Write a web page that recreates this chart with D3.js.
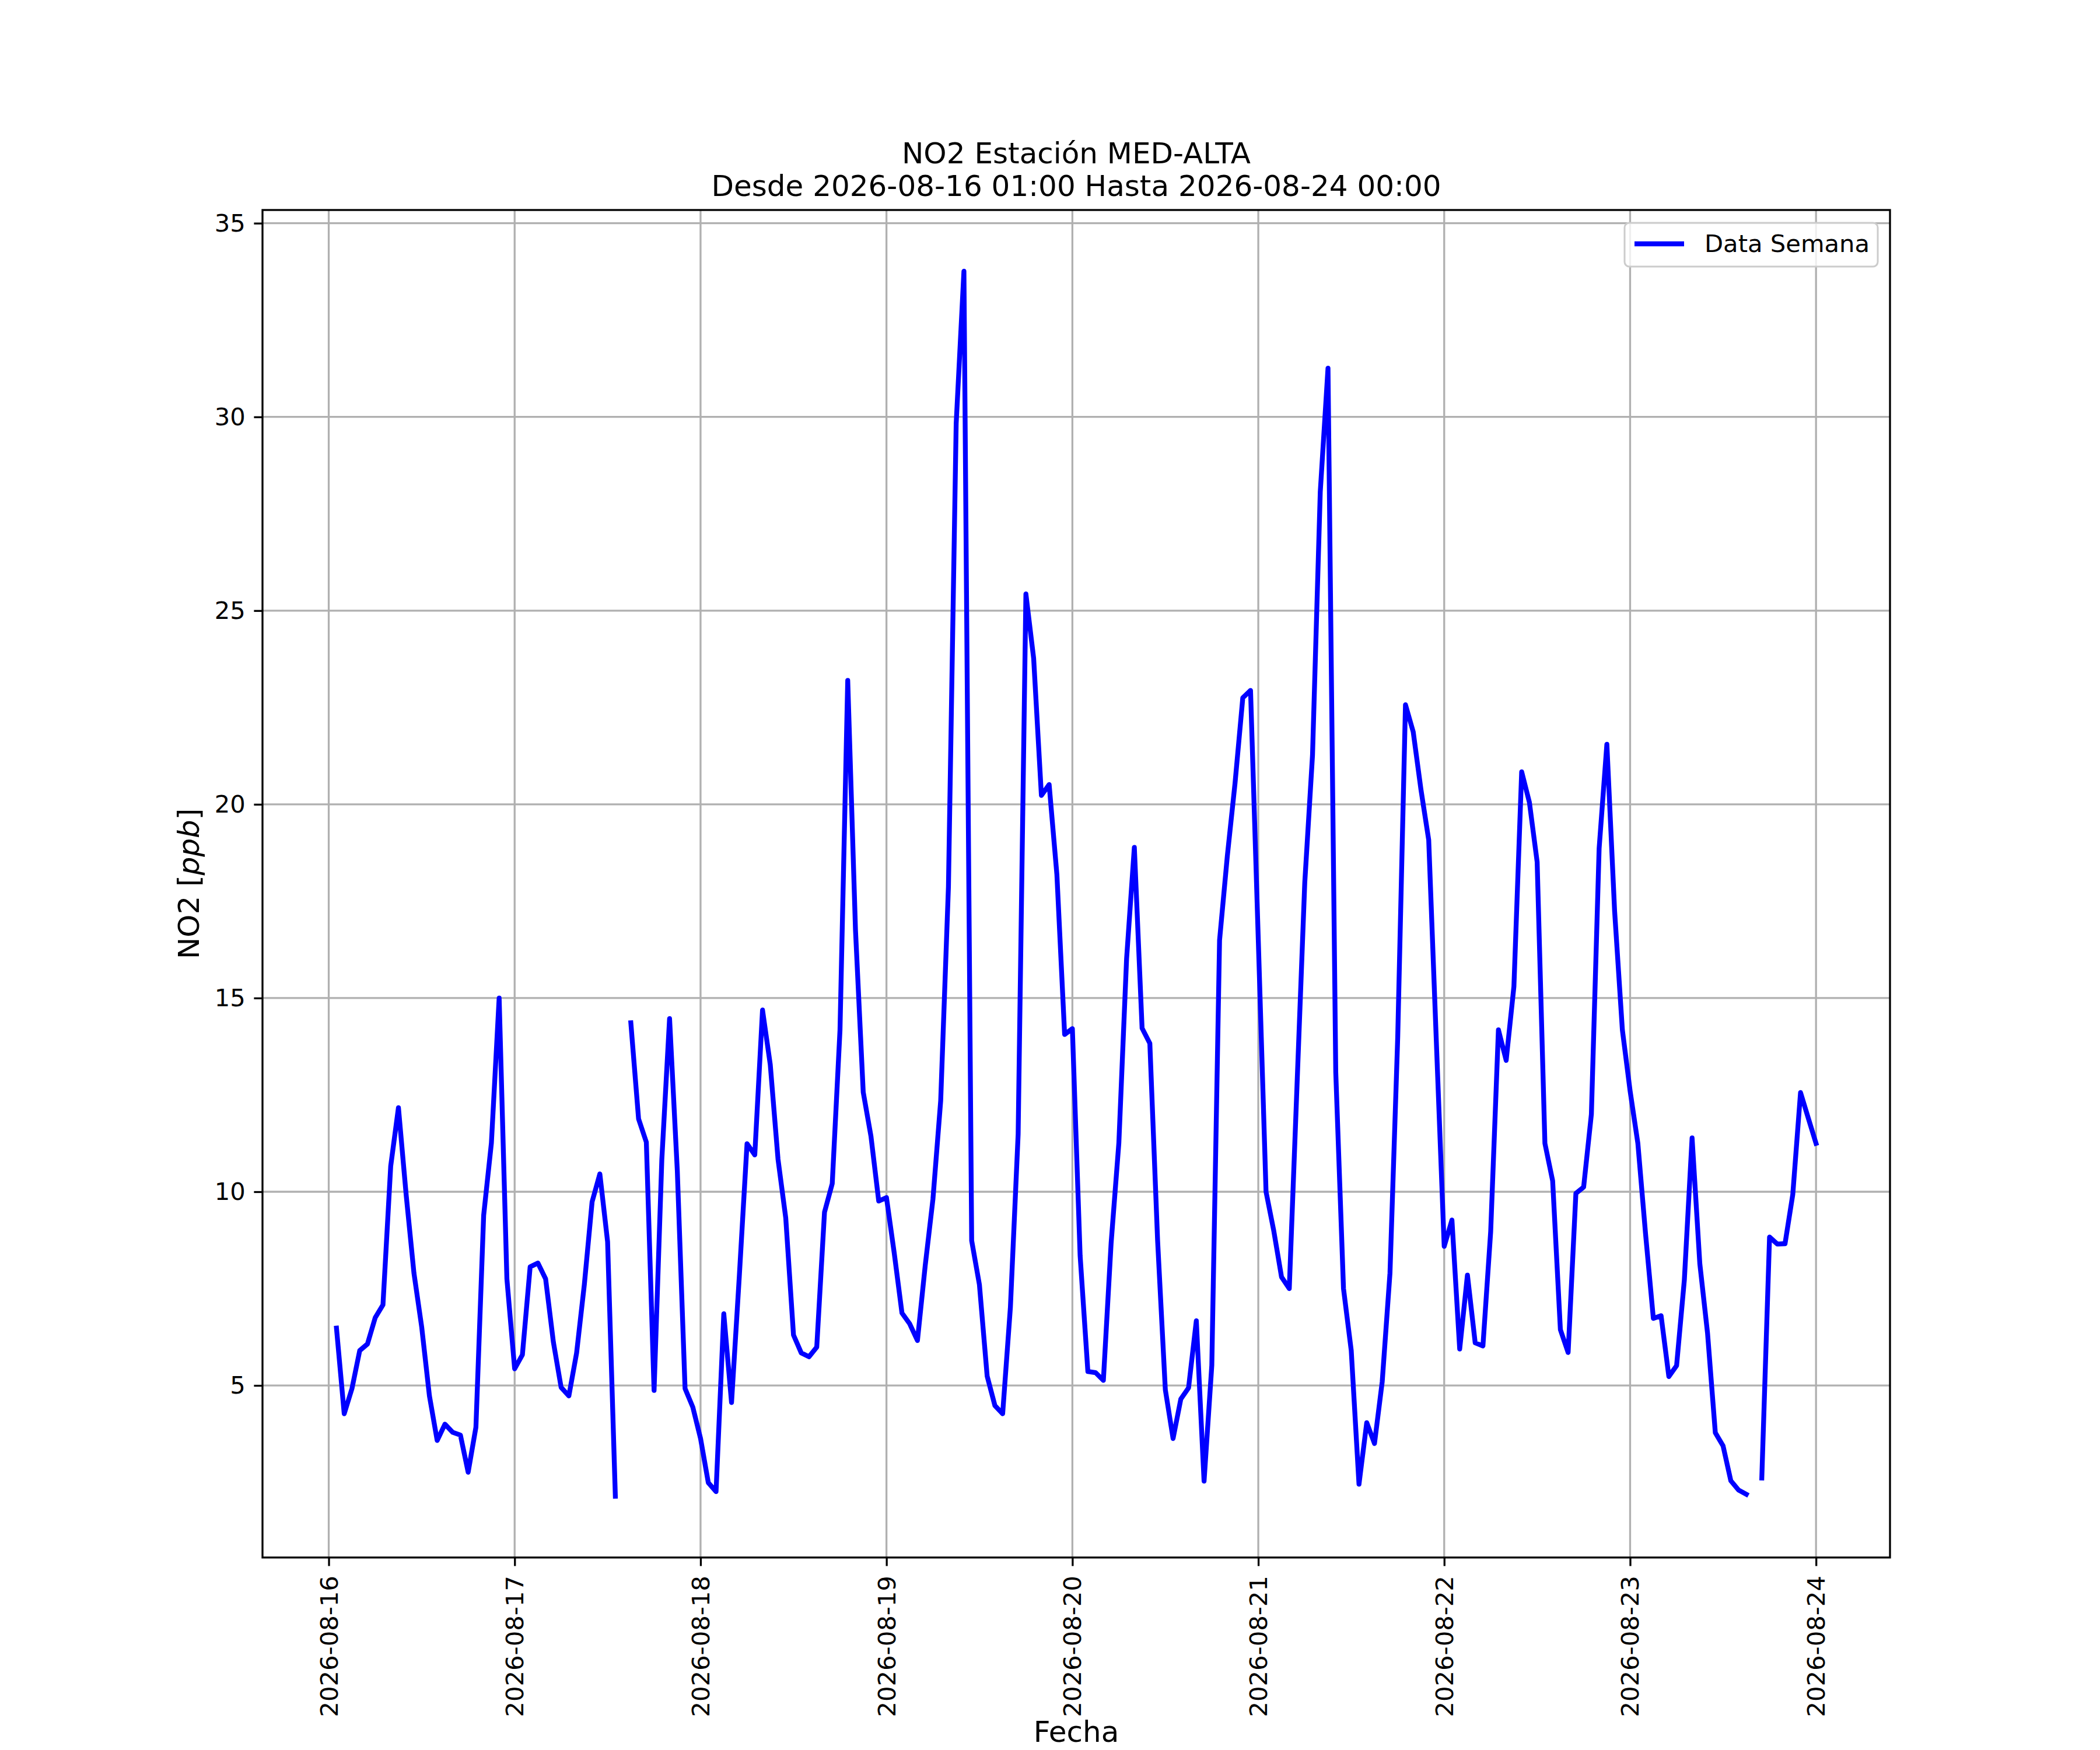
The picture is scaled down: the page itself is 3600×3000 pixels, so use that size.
<!DOCTYPE html>
<html>
<head>
<meta charset="utf-8">
<script src="https://cdn.jsdelivr.net/npm/d3@7"></script>
<style>
  body { margin: 0; background: #fff; }
  text { font-family: "DejaVu Sans", sans-serif; }
</style>
</head>
<body>
<svg id="chart" width="3600" height="3000"></svg>
<script>
var TITLE_LINES = ["NO2 Estación MED-ALTA", "Desde 2026-08-16 01:00 Hasta 2026-08-24 00:00"];
var SERIES_NAME = "Data Semana";
var X_LABEL = "Fecha";
var START_TIME = "2026-08-16 01:00";   // first hourly reading
var Y_TICKS = [5, 10, 15, 20, 25, 30, 35];
var X_TICKS = ["2026-08-16", "2026-08-17", "2026-08-18", "2026-08-19", "2026-08-20",
  "2026-08-21", "2026-08-22", "2026-08-23", "2026-08-24"];

// hourly NO2 values (ppb), null = missing reading
var no2_day16 = [6.48, 4.27, 4.92, 5.90, 6.07, 6.75, 7.08, 10.66, 12.17, 9.91, 7.90, 6.51,
  4.73, 3.58, 4.00, 3.79, 3.72, 2.76, 3.92, 9.39, 11.26, 15.00, 7.75, 5.43];
var no2_day17 = [5.79, 8.06, 8.16, 7.75, 6.12, 4.95, 4.73, 5.84, 7.61, 9.74, 10.46, 8.71,
  2.14, null, 14.36, 11.88, 11.28, 4.87, 10.83, 14.47, 10.54, 4.92, 4.44, 3.63];
var no2_day18 = [2.49, 2.26, 6.85, 4.56, 7.81, 11.24, 10.95, 14.69, 13.28, 10.84, 9.32, 6.30,
  5.84, 5.74, 5.99, 9.47, 10.21, 14.17, 23.20, 16.76, 12.57, 11.43, 9.76, 9.85];
var no2_day19 = [8.42, 6.87, 6.59, 6.16, 8.09, 9.81, 12.35, 17.87, 29.83, 33.76, 8.74, 7.60,
  5.24, 4.48, 4.27, 7.02, 11.49, 25.43, 23.77, 20.23, 20.51, 18.19, 14.06, 14.21];
var no2_day20 = [8.35, 5.36, 5.33, 5.13, 8.67, 11.26, 16.02, 18.89, 14.22, 13.83, 8.75, 4.89,
  3.63, 4.65, 4.94, 6.67, 2.53, 5.52, 16.49, 18.66, 20.55, 22.75, 22.94, 16.50];
var no2_day21 = [10.00, 8.99, 7.80, 7.50, 12.75, 17.98, 21.27, 28.06, 31.26, 13.09, 7.50, 5.90,
  2.45, 4.04, 3.50, 5.10, 7.90, 13.99, 22.57, 21.87, 20.38, 19.08, 13.80, 8.59];
var no2_day22 = [9.27, 5.94, 7.85, 6.10, 6.02, 8.97, 14.18, 13.39, 15.30, 20.84, 20.05, 18.51,
  11.25, 10.28, 6.44, 5.85, 9.96, 10.12, 12.00, 18.86, 21.55, 17.24, 14.18, 12.60];
var no2_day23 = [11.25, 8.90, 6.73, 6.80, 5.23, 5.51, 7.72, 11.39, 8.14, 6.34, 3.78, 3.44,
  2.54, 2.30, 2.19, null, 2.61, 8.83, 8.65, 8.66, 9.93, 12.56, 11.90, 11.25];

var values = [].concat(no2_day16, no2_day17, no2_day18, no2_day19,
  no2_day20, no2_day21, no2_day22, no2_day23);

var parseTime = d3.timeParse("%Y-%m-%d %H:%M");
var parseDay = d3.timeParse("%Y-%m-%d");
var t0 = parseTime(START_TIME);
var data = values.map(function(v, i) {
  return { t: d3.timeHour.offset(t0, i), v: v };
});

// figure geometry (matplotlib-like 12x10in @300dpi)
// note: plain "top" clashes with window.top, so everything gets a prefix
var W = 3600, H = 3000;
var axLeft = 450, axRight = 3240, axTop = 360, axBottom = 2670;
var FS = 41.7;      // 10pt
var FS_BIG = 50;    // 12pt
var TICK = 14.6;

var svg = d3.select("#chart");
svg.append("rect").attr("width", W).attr("height", H).attr("fill", "#fff");

// 5% margins like autoscale
var tExt = d3.extent(data, function(d) { return d.t; });
var tPad = (tExt[1] - tExt[0]) * 0.05;
var vExt = d3.extent(data, function(d) { return d.v; });
var vPad = (vExt[1] - vExt[0]) * 0.05;

var x = d3.scaleTime()
  .domain([new Date(+tExt[0] - tPad), new Date(+tExt[1] + tPad)])
  .range([axLeft, axRight]);
var y = d3.scaleLinear()
  .domain([vExt[0] - vPad, vExt[1] + vPad])
  .range([axBottom, axTop]);

var xTickDates = X_TICKS.map(function(s) { return parseDay(s); });

// grid
var grid = svg.append("g");
grid.selectAll(".gx").data(xTickDates).enter().append("line")
  .attr("x1", function(d) { return x(d); }).attr("x2", function(d) { return x(d); })
  .attr("y1", axTop).attr("y2", axBottom)
  .attr("stroke", "#b0b0b0").attr("stroke-width", 3.3);
grid.selectAll(".gy").data(Y_TICKS).enter().append("line")
  .attr("x1", axLeft).attr("x2", axRight)
  .attr("y1", function(d) { return y(d); }).attr("y2", function(d) { return y(d); })
  .attr("stroke", "#b0b0b0").attr("stroke-width", 3.3);

// data line
var line = d3.line()
  .defined(function(d) { return d.v != null; })
  .x(function(d) { return x(d.t); })
  .y(function(d) { return y(d.v); });

svg.append("path")
  .datum(data)
  .attr("d", line)
  .attr("fill", "none")
  .attr("stroke", "#0000ff")
  .attr("stroke-width", 8.3)
  .attr("stroke-linejoin", "round")
  .attr("stroke-linecap", "square");

// axes
var xAxis = d3.axisBottom(x)
  .tickValues(xTickDates)
  .tickFormat(d3.timeFormat("%Y-%m-%d"))
  .tickSizeInner(TICK).tickSizeOuter(0).tickPadding(TICK);
var gx = svg.append("g").attr("transform", "translate(0," + axBottom + ")").call(xAxis);
gx.select(".domain").remove();
gx.selectAll(".tick line").attr("stroke", "#000").attr("stroke-width", 3.3);
gx.selectAll(".tick text")
  .attr("font-size", FS).attr("fill", "#000")
  .attr("x", 0).attr("y", 0).attr("dy", null)
  .attr("text-anchor", "end")
  .attr("dominant-baseline", "central")
  .attr("transform", "translate(0," + (TICK * 2 + 2) + ") rotate(-90)");

var yAxis = d3.axisLeft(y)
  .tickValues(Y_TICKS)
  .tickFormat(d3.format("d"))
  .tickSizeInner(TICK).tickSizeOuter(0).tickPadding(TICK);
var gy = svg.append("g").attr("transform", "translate(" + axLeft + ",0)").call(yAxis);
gy.select(".domain").remove();
gy.selectAll(".tick line").attr("stroke", "#000").attr("stroke-width", 3.3);
gy.selectAll(".tick text").attr("font-size", FS).attr("fill", "#000");

// spines
svg.append("rect")
  .attr("x", axLeft).attr("y", axTop)
  .attr("width", axRight - axLeft).attr("height", axBottom - axTop)
  .attr("fill", "none").attr("stroke", "#000").attr("stroke-width", 3.3);

// title
svg.append("g").selectAll("text").data(TITLE_LINES).enter().append("text")
  .attr("x", (axLeft + axRight) / 2)
  .attr("y", function(d, i) { return 280 + i * 56; })
  .attr("text-anchor", "middle")
  .attr("font-size", FS_BIG)
  .text(function(d) { return d; });

// axis labels
svg.append("text")
  .attr("x", (axLeft + axRight) / 2).attr("y", 2986)
  .attr("text-anchor", "middle")
  .attr("font-size", FS_BIG)
  .text(X_LABEL);

var yl = svg.append("text")
  .attr("transform", "translate(324," + ((axTop + axBottom) / 2) + ") rotate(-90)")
  .attr("text-anchor", "middle")
  .attr("dominant-baseline", "central")
  .attr("font-size", FS_BIG);
yl.append("tspan").text("NO2 [");
yl.append("tspan").attr("font-style", "italic").text("ppb");
yl.append("tspan").text("]");

// legend
var lg = svg.append("g");
lg.append("rect")
  .attr("x", 2785).attr("y", 382)
  .attr("width", 434).attr("height", 75)
  .attr("rx", 8).attr("ry", 8)
  .attr("fill", "#fff").attr("fill-opacity", 0.8)
  .attr("stroke", "#cccccc").attr("stroke-width", 3);
lg.append("line")
  .attr("x1", 2802).attr("x2", 2887)
  .attr("y1", 418).attr("y2", 418)
  .attr("stroke", "#0000ff").attr("stroke-width", 8.3)
  .attr("stroke-linecap", "butt");
lg.append("text")
  .attr("x", 2922).attr("y", 432)
  .attr("font-size", FS)
  .text(SERIES_NAME);
</script>
</body>
</html>
